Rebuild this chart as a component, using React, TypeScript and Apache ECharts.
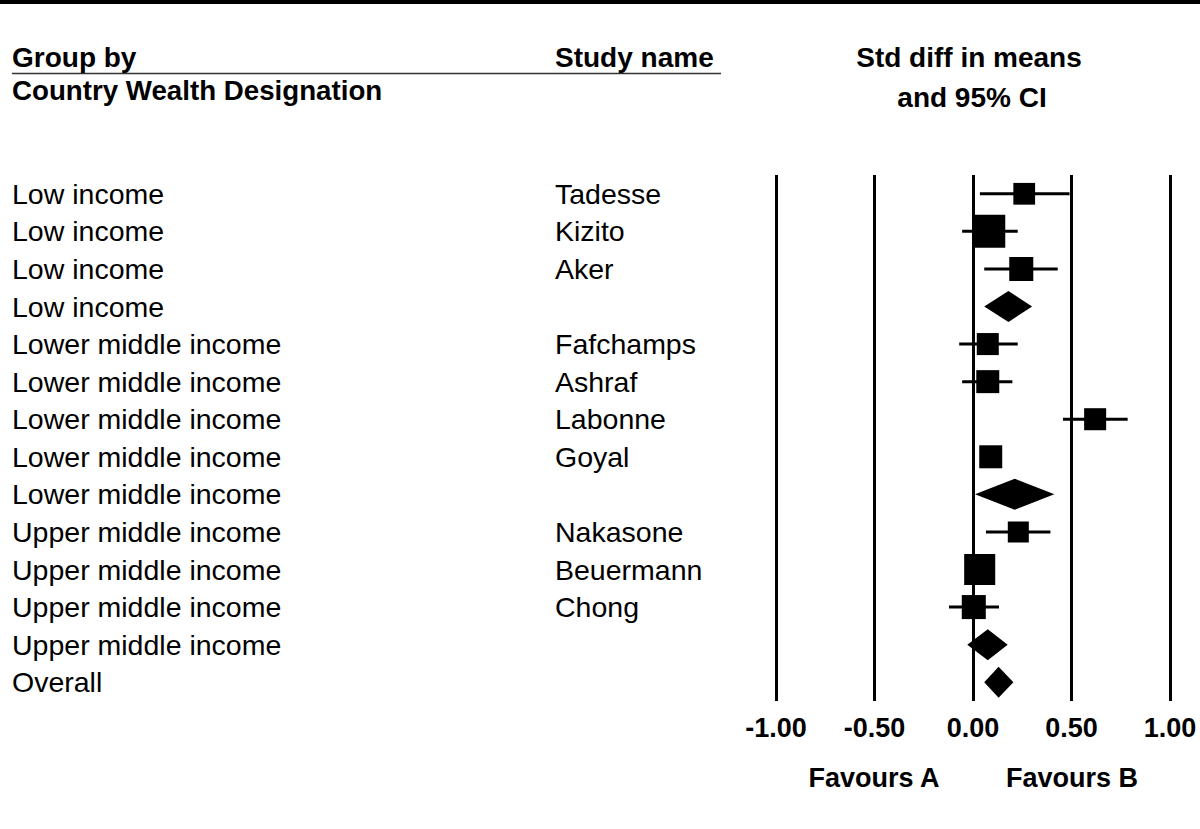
import React, { useEffect, useRef } from "react";
import * as echarts from "echarts";

const groupNames = [
  "Low income", "Low income", "Low income", "Low income",
  "Lower middle income", "Lower middle income", "Lower middle income", "Lower middle income", "Lower middle income",
  "Upper middle income", "Upper middle income", "Upper middle income", "Upper middle income",
  "Overall",
];
const studyNames = [
  "Tadesse", "Kizito", "Aker", "",
  "Fafchamps", "Ashraf", "Labonne", "Goyal", "",
  "Nakasone", "Beuermann", "Chong", "",
  "",
];
const effect = [0.26, 0.08, 0.245, 0.18, 0.075, 0.075, 0.62, 0.09, 0.212, 0.23, 0.034, 0.004, 0.075, 0.13];
const ciLower = [0.035, -0.055, 0.057, 0.057, -0.07, -0.055, 0.457, 0.04, 0.01, 0.066, -0.03, -0.122, -0.029, 0.057];
const ciUpper = [0.49, 0.227, 0.43, 0.30, 0.227, 0.2, 0.785, 0.14, 0.413, 0.393, 0.10, 0.132, 0.176, 0.205];
const relWeight = [7.7, 17.7, 9.4, 0, 7.9, 8.6, 7.9, 8.6, 0, 7.2, 15.7, 9.4, 0, 0];
const rowKind = [
  "study", "study", "study", "summary",
  "study", "study", "study", "study", "summary",
  "study", "study", "study", "summary",
  "summary",
];

const FONT = "'Liberation Sans', Arial, Helvetica, sans-serif";

export default function App() {
  const ref = useRef<HTMLDivElement>(null);
  useEffect(() => {
    const chart = echarts.init(ref.current!, null, { renderer: "svg" });
    const rowIdx = groupNames.map((_, i) => String(i));
    const data = effect.map((e, i) => [e, i, ciLower[i], ciUpper[i], relWeight[i], rowKind[i] === "summary" ? 1 : 0]);
    const yBase = {
      type: "category",
      data: rowIdx,
      inverse: true,
      position: "left",
      offset: 0,
      axisLine: { show: false },
      axisTick: { show: false },
      splitLine: { show: false },
    };
    const txt = (text: string, x: number, y: number, align: string, bold = true, size = 28) => ({
      type: "text",
      x,
      y,
      style: {
        text,
        fill: "#000",
        fontFamily: FONT,
        fontSize: size,
        fontWeight: bold ? "bold" : "normal",
        align,
        verticalAlign: "middle",
      },
    });
    chart.setOption({
      animation: false,
      grid: { left: 776, right: 30, top: 175, bottom: 128, containLabel: false },
      xAxis: {
        type: "value",
        min: -1,
        max: 1,
        interval: 0.5,
        axisLine: { show: false },
        axisTick: { show: false },
        splitLine: { show: true, lineStyle: { color: "#000", width: 3 } },
        axisLabel: {
          formatter: (v: number) => v.toFixed(2),
          fontFamily: FONT,
          fontWeight: "bold",
          fontSize: 27,
          color: "#000",
          margin: 13,
        },
      },
      yAxis: [
        {
          ...yBase,
          axisLabel: {
            interval: 0,
            formatter: (_v: string, i: number) => groupNames[i],
            align: "left",
            margin: 764,
            fontFamily: FONT,
            fontSize: 28.5,
            color: "#000",
          },
        },
        {
          ...yBase,
          axisLabel: {
            interval: 0,
            formatter: (_v: string, i: number) => studyNames[i],
            align: "left",
            margin: 221,
            fontFamily: FONT,
            fontSize: 28.5,
            color: "#000",
          },
        },
      ],
      series: [
        {
          type: "custom",
          xAxisIndex: 0,
          yAxisIndex: 0,
          encode: { x: 0, y: 1 },
          data,
          renderItem: (_params: any, api: any) => {
            const y = api.value(1);
            const c = api.coord([api.value(0), y]);
            const lo = api.coord([api.value(2), y]);
            const hi = api.coord([api.value(3), y]);
            if (api.value(5) === 1) {
              const h = 31;
              return {
                type: "polygon",
                shape: { points: [[lo[0], c[1]], [c[0], c[1] - h / 2], [hi[0], c[1]], [c[0], c[1] + h / 2]] },
                style: { fill: "#000" },
              };
            }
            const s = 7.84 * Math.sqrt(api.value(4));
            return {
              type: "group",
              children: [
                { type: "line", shape: { x1: lo[0], y1: c[1], x2: hi[0], y2: c[1] }, style: { stroke: "#000", lineWidth: 3 } },
                { type: "rect", shape: { x: c[0] - s / 2, y: c[1] - s / 2, width: s, height: s }, style: { fill: "#000" } },
              ],
            };
          },
        },
      ],
      graphic: [
        { type: "rect", shape: { x: 0, y: 0, width: 1200, height: 4 }, style: { fill: "#000" } },
        { type: "line", shape: { x1: 12, y1: 73.5, x2: 721, y2: 73.5 }, style: { stroke: "#333", lineWidth: 1.5 } },
        txt("Group by", 12, 57, "left"),
        txt("Study name", 555, 57, "left"),
        txt("Country Wealth Designation", 12, 90, "left", true, 27.7),
        txt("Std diff in means", 969, 57, "center"),
        txt("and 95% CI", 972, 97, "center"),
        txt("Favours A", 874, 778, "center", true, 27),
        txt("Favours B", 1072, 778, "center", true, 27),
      ],
    });
    return () => chart.dispose();
  }, []);
  return <div ref={ref} style={{ position: "absolute", left: 0, top: 0, width: 1200, height: 829 }} />;
}
